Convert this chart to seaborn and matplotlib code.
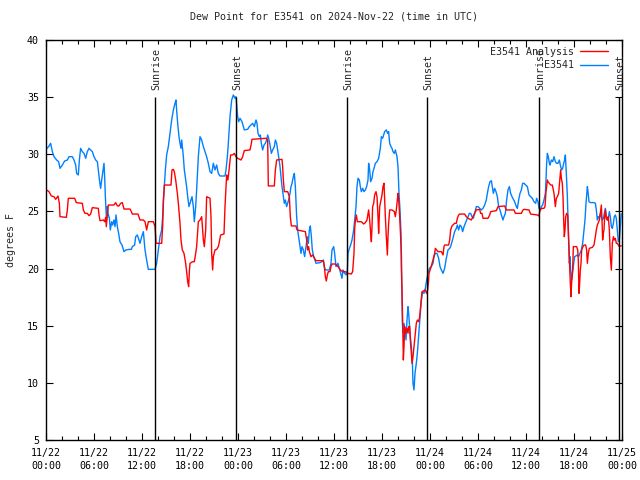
import matplotlib
matplotlib.use("Agg")
import matplotlib.pyplot as plt
from matplotlib.ticker import MultipleLocator, FixedLocator
import seaborn as sns
import pandas as pd

# ---- data (hours since 2024-11-22 00:00 UTC, dew point in F) ----
obs_points = [  # E3541 (blue)
    (0.08,30.5),(0.33,30.67),(0.58,30.96),(0.79,30.23),(1.0,29.79),(1.33,29.5),(1.58,29.35),(1.75,28.77),
    (2.04,29.06),(2.33,29.41),(2.67,29.5),(2.875,29.79),(3.29,29.79),(3.5,29.5),(3.71,29.06),(3.83,28.33),
    (4.04,28.19),(4.17,29.5),(4.33,30.52),(4.54,30.23),(4.75,30.08),(4.96,29.65),(5.17,30.23),(5.375,30.52),
    (5.58,30.38),(5.79,30.23),(6.0,29.79),(6.21,29.5),(6.42,29.35),(6.54,28.62),(6.71,27.6),(6.83,27.02),
    (6.96,27.75),(7.08,28.33),(7.25,29.21),(7.33,28.04),(7.42,26.29),(7.54,24.54),(7.67,25.42),(7.75,24.83),
    (7.92,24.4),(8.04,23.38),(8.21,24.1),(8.33,23.81),(8.5,24.25),(8.625,23.67),(8.75,24.69),(8.92,23.67),
    (9.08,23.08),(9.25,22.35),(9.5,22.06),(9.75,21.48),(9.96,21.62),(10.375,21.68),(10.67,21.68),(10.79,21.92),
    (11.08,22.06),(11.21,22.79),(11.42,22.94),(11.625,22.5),
    (11.75,22.21),(11.96,22.79),(12.17,23.23),(12.375,21.63),(12.58,20.75),(12.79,19.93),(13.625,19.93),
    (13.83,20.46),(14.04,21.63),(14.25,22.79),(14.46,23.38),(14.58,24.54),(14.67,26.0),(14.79,27.17),
    (14.92,28.63),(15.08,29.94),(15.29,30.67),(15.5,31.83),(15.71,33.0),(15.92,33.87),(16.125,34.46),
    (16.25,34.75),(16.33,33.87),(16.46,32.71),(16.625,31.54),(16.75,30.96),(16.875,30.52),(16.96,31.25),
    (17.08,30.38),(17.17,29.79),(17.29,28.63),(17.46,27.75),(17.58,27.17),(17.71,26.29),(17.875,25.42),
    (18.0,25.71),(18.125,26.0),(18.25,26.29),(18.42,25.42),(18.54,24.1),(18.71,25.42),(18.83,26.87),
    (19.04,29.79),(19.25,31.54),(19.46,31.25),(19.67,30.67),(19.875,30.23),(20.08,29.79),(20.29,29.21),
    (20.5,28.48),(20.71,28.33),(20.92,29.21),(21.125,28.63),(21.33,29.06),(21.54,28.33),(21.75,28.1),
    (22.375,28.1),(22.5,28.63),(22.67,29.79),(22.79,30.96),(23.0,33.29),(23.21,34.75),(23.42,35.19),
    (23.625,34.9),(23.75,35.04),
    (23.96,33.29),(24.08,32.85),(24.25,33.15),(24.5,32.85),(24.67,32.42),(24.79,32.13),(25.21,32.19),
    (25.42,32.42),(25.625,32.56),(25.83,32.71),(26.04,32.42),(26.25,33.0),(26.375,32.71),(26.5,31.83),
    (26.67,31.54),(26.79,31.69),(26.92,30.96),(27.08,30.38),(27.25,30.81),(27.42,30.96),(27.58,31.25),
    (27.71,31.69),(27.83,31.4),(28.0,30.81),(28.17,30.08),(28.33,30.38),(28.54,30.67),(28.67,31.25),
    (28.83,30.96),(28.96,30.38),(29.08,29.79),(29.25,28.92),(29.375,28.04),(29.5,27.17),(29.67,26.29),
    (29.79,25.71),(29.92,26.0),(30.08,25.42),(30.21,25.71),(30.33,26.0),(30.5,26.58),(30.625,27.17),
    (30.75,27.46),(30.92,28.04),(31.04,28.33),(31.17,27.17),(31.33,24.54),(31.46,23.38),(31.58,22.79),
    (31.75,21.92),(31.875,21.33),(32.0,21.92),(32.17,21.63),(32.33,21.04),(32.5,21.92),(32.67,22.79),
    (32.79,22.21),(32.92,23.38),(33.04,23.73),(33.17,22.79),(33.29,21.63),(33.42,21.19),(33.54,20.9),
    (33.75,20.46),(34.25,20.52),(34.5,20.6),(34.67,20.75),(34.79,20.17),(34.92,19.88),(35.42,19.88),
    (35.625,20.46),
    (35.75,21.63),(35.96,21.92),(36.08,21.33),(36.25,20.17),(36.5,20.46),(36.67,20.02),(36.83,19.58),
    (37.0,19.15),(37.125,19.88),(37.33,19.58),(37.54,19.44),(37.67,19.88),(37.75,21.33),(37.92,21.77),
    (38.08,22.06),(38.25,22.5),(38.46,23.38),(38.58,24.25),(38.75,25.42),(38.875,27.17),(39.0,27.9),
    (39.17,27.75),(39.29,27.17),(39.42,26.73),(39.58,27.02),(39.75,26.73),(39.92,26.88),(40.08,27.17),
    (40.25,27.75),(40.33,29.21),(40.46,28.63),(40.58,27.6),(40.75,27.9),(40.875,28.48),(41.0,28.77),
    (41.17,29.21),(41.375,29.35),(41.58,29.65),(41.79,30.52),(41.92,31.54),(42.08,31.4),(42.21,31.69),
    (42.33,31.98),(42.54,32.13),(42.71,31.83),(42.83,31.98),(42.96,30.96),(43.125,30.67),(43.25,30.52),
    (43.375,30.23),(43.54,30.08),(43.67,30.38),(43.875,29.79),(44.0,28.92),(44.125,26.58),(44.25,25.13),
    (44.375,23.08),(44.42,19.88),(44.5,17.83),(44.54,15.36),(44.625,14.34),(44.75,15.21),(44.875,14.63),
    (45.0,13.75),(45.125,15.5),(45.25,16.67),(45.33,16.09),(45.42,15.21),(45.54,14.04),(45.67,13.17),
    (45.79,12.0),(45.875,9.96),(46.0,9.38),(46.125,10.84),(46.29,11.71),(46.42,12.59),(46.54,13.75),
    (46.67,14.92),(46.79,16.09),(46.92,17.25),(47.08,17.98),(47.25,17.83),(47.42,18.27),(47.58,19.0),
    (47.75,19.58),(47.92,20.02),
    (48.17,20.17),(48.375,20.46),(48.5,21.04),(48.67,21.33),(48.875,21.33),(49.08,20.9),(49.25,20.17),
    (49.42,19.88),(49.625,19.58),(49.83,20.02),(50.04,20.9),(50.25,21.63),(50.46,21.77),(50.58,21.92),
    (50.75,22.35),(50.92,22.79),(51.08,23.23),(51.29,23.52),(51.42,23.81),(51.58,23.38),(51.75,23.81),
    (51.92,23.67),(52.08,23.23),(52.25,23.67),(52.42,23.96),(52.58,24.25),(52.75,24.54),(52.92,24.83),
    (53.08,24.83),(53.25,24.54),(53.42,24.4),(53.58,24.83),(53.79,25.42),(54.0,25.42),(54.21,25.27),
    (54.42,25.13),(54.625,25.27),(54.83,25.56),(55.04,26.0),(55.17,26.58),(55.33,27.17),(55.5,27.6),
    (55.67,27.69),(55.79,27.17),(55.92,26.58),(56.08,27.02),(56.25,26.73),(56.42,26.29),(56.58,25.42),
    (56.75,25.13),(56.92,24.69),(57.125,24.25),(57.25,24.54),(57.42,24.83),(57.58,26.0),(57.75,26.88),
    (57.92,27.17),(58.08,26.58),(58.25,26.29),(58.58,25.85),(58.79,25.42),(58.92,25.27),(59.08,26.0),
    (59.25,26.58),(59.42,26.88),(59.58,27.46),
    (59.75,27.46),(59.96,27.31),(60.17,27.17),(60.375,26.44),(60.58,26.29),(60.79,26.15),(61.0,25.85),
    (61.21,25.71),(61.33,26.15),(61.5,25.85),(61.625,25.27),(61.75,25.13),(61.92,25.42),(62.08,25.56),
    (62.25,26.0),(62.42,26.58),(62.5,27.75),(62.58,29.21),(62.67,30.08),(62.79,29.79),(62.92,29.21),
    (63.0,29.06),(63.17,29.5),(63.33,29.35),(63.5,29.79),(63.67,29.35),(63.83,29.21),(64.0,29.21),
    (64.17,29.5),(64.33,28.92),(64.46,28.63),(64.58,28.77),(64.71,29.21),(64.83,29.5),(64.92,29.94),
    (65.0,28.92),(65.08,27.75),(65.17,26.29),(65.25,24.54),(65.33,22.5),(65.42,20.46),(65.5,21.04),
    (65.58,19.87),(65.71,19.0),(65.83,19.73),(65.96,20.46),(66.08,21.04),(66.42,21.19),(66.58,21.04),
    (66.75,21.33),(66.92,21.63),(67.08,22.21),(67.25,23.38),(67.375,24.25),(67.5,25.71),(67.67,27.17),
    (67.75,26.73),(67.875,25.85),(68.08,25.77),(68.5,25.77),(68.67,25.71),(68.79,25.13),(68.92,24.25),
    (69.04,24.54),(69.17,24.4),(69.29,24.83),(69.42,24.54),(69.54,24.25),(69.67,24.4),(69.79,24.83),
    (69.92,25.27),(70.04,24.54),(70.17,24.25),(70.29,24.4),(70.42,24.98),(70.54,24.54),(70.67,23.67),
    (70.79,23.52),(70.92,23.96),(71.04,24.54),(71.17,24.69),(71.29,24.4),(71.42,23.38),(71.54,22.35),
    (71.67,22.5),(71.9,24.8),
]

analysis_points = [  # E3541 Analysis (red)
    (0.08,26.875),(0.375,26.73),(0.67,26.35),(1.0,26.29),(1.21,26.06),(1.5,26.35),(1.67,25.71),(1.75,24.54),
    (2.54,24.48),(2.67,25.13),(2.79,26.15),(3.58,26.15),(3.79,25.77),(4.54,25.71),(4.67,25.13),(4.875,24.83),
    (5.17,24.83),(5.375,24.63),(5.58,24.77),(5.79,25.33),(6.54,25.27),(6.625,24.69),(6.75,24.19),(7.17,24.25),
    (7.33,24.1),(7.46,24.48),(7.54,23.67),(7.67,24.69),(7.79,25.56),(8.5,25.56),(8.71,25.77),(8.92,25.48),
    (9.125,25.48),(9.33,25.71),(9.54,25.77),(9.75,25.21),(10.5,25.21),(10.67,24.98),(10.79,24.77),(11.5,24.77),
    (11.75,24.25),(12.17,24.25),(12.375,24.1),(12.58,23.38),(12.79,24.1),(13.42,24.1),(13.625,23.67),
    (13.71,22.79),(13.75,22.21),(14.46,22.21),(14.58,23.67),(14.67,25.71),(14.79,27.31),(15.625,27.31),
    (15.75,28.63),(15.92,28.68),(16.04,28.48),(16.21,27.75),(16.42,26.58),(16.58,25.42),(16.75,23.96),
    (16.875,22.5),(17.04,21.63),(17.25,21.33),(17.46,20.46),(17.58,19.73),(17.71,18.85),(17.83,18.42),
    (17.92,19.73),(18.0,20.46),(18.33,20.6),(18.54,20.6),(18.71,21.33),(18.83,21.92),(19.04,24.1),
    (19.25,24.25),(19.46,24.54),(19.58,23.38),(19.67,22.5),(19.79,21.92),(19.96,23.38),(20.08,26.29),
    (20.5,26.15),(20.625,24.54),(20.71,21.33),(20.83,19.88),(20.92,21.04),(21.125,21.63),(21.33,21.68),
    (21.54,21.92),(21.67,22.35),(21.83,22.94),(22.25,23.03),(22.375,25.42),(22.58,28.19),(22.71,27.75),
    (22.79,28.04),(22.92,28.92),(23.08,29.94),(23.33,29.94),(23.54,30.08),
    (23.75,29.79),(23.96,29.65),(24.375,29.5),(24.58,29.79),(24.79,30.32),(25.5,30.38),(25.67,30.96),
    (25.75,31.31),(27.5,31.4),(27.71,31.25),(27.75,28.92),(27.79,27.23),(28.54,27.23),(28.67,28.63),
    (28.83,29.5),(29.5,29.56),(29.58,28.92),(29.67,27.75),(29.79,26.73),(30.21,26.73),(30.42,26.29),
    (30.54,24.54),(30.67,23.73),(31.25,23.73),(31.375,23.38),(32.42,23.23),(32.58,22.5),(32.71,21.63),
    (32.83,21.92),(32.92,21.48),(33.125,21.04),(33.33,21.19),(33.58,20.9),(33.75,20.69),(34.67,20.69),
    (34.79,20.17),(34.92,19.29),(35.04,18.91),(35.17,19.44),(35.29,19.73),(35.5,19.73),(35.625,20.17),
    (35.75,20.4),(36.17,20.4),(36.5,20.17),(36.79,19.88),(37.08,19.73),(37.42,19.73),(37.67,19.58),
    (38.17,19.53),(38.33,19.73),(38.5,21.33),(38.58,23.38),(38.67,24.25),(38.79,24.69),(38.92,24.1),
    (39.42,24.1),(39.71,23.9),(39.92,24.02),(40.125,24.25),(40.33,25.13),(40.46,24.25),(40.58,23.08),
    (40.67,22.35),(40.75,23.67),(40.83,25.42),(40.96,25.71),(41.08,26.44),(41.25,26.73),(41.375,26.29),
    (41.5,24.54),(41.58,23.08),(41.71,25.42),(41.83,25.86),(42.0,26.44),(42.125,27.17),(42.25,27.46),
    (42.33,26.0),(42.42,24.54),(42.54,22.79),(42.67,21.19),(42.75,22.79),(42.83,23.96),(42.96,25.13),
    (43.25,25.13),(43.54,24.98),(43.67,24.54),(43.79,25.13),(43.92,26.0),(44.0,26.58),(44.08,26.0),
    (44.17,25.13),(44.29,23.38),(44.375,21.92),(44.42,21.33),(44.5,17.83),(44.58,15.5),(44.67,12.0),
    (44.75,13.17),(44.83,14.92),(44.92,14.34),(45.125,14.77),(45.25,14.34),(45.33,14.92),(45.46,14.92),
    (45.54,13.75),(45.67,12.59),(45.75,11.71),(45.875,12.29),(46.0,13.17),(46.17,14.34),(46.29,15.21),
    (46.42,15.5),(46.58,15.36),(46.71,15.79),(46.83,16.67),(47.0,17.98),(47.42,18.13),(47.58,17.83),
    (47.71,18.13),(47.83,19.0),
    (47.875,19.58),(48.08,20.02),(48.375,20.75),(48.58,21.33),(48.67,21.77),(49.0,21.48),(49.42,21.48),
    (49.625,21.19),(49.75,21.92),(49.83,22.06),(50.33,22.06),(50.46,22.5),(50.58,23.38),(50.75,23.73),
    (51.08,23.96),(51.29,23.96),(51.42,24.4),(51.58,24.69),(51.71,24.77),(52.33,24.77),(52.54,24.54),
    (52.75,24.4),(53.17,24.25),(53.375,24.54),(53.58,24.83),(53.79,25.13),(54.21,25.18),(54.33,24.83),
    (54.5,24.83),(54.625,24.4),(55.25,24.4),(55.46,24.69),(55.58,24.98),(56.29,25.07),(56.5,25.42),
    (57.33,25.48),(57.54,25.13),(58.5,25.13),(58.67,24.83),(59.42,24.83),(59.625,25.13),
    (59.75,25.18),(60.375,25.13),(60.58,24.77),(61.42,24.69),(61.625,24.6),(61.71,24.98),(61.92,25.27),
    (62.25,25.27),(62.375,25.42),(62.5,26.73),(62.58,27.17),(62.67,27.75),(62.75,27.6),(63.08,27.31),
    (63.29,27.31),(63.42,26.88),(63.5,26.58),(63.58,26.0),(63.67,25.42),(63.79,26.15),(63.92,26.29),
    (64.08,26.58),(64.17,27.31),(64.25,28.04),(64.33,28.63),(64.42,27.9),(64.54,27.46),(64.625,26.29),
    (64.71,24.25),(64.79,22.79),(64.875,23.38),(64.96,24.54),(65.08,24.83),(65.21,24.69),(65.33,22.5),
    (65.46,20.17),(65.54,18.71),(65.625,17.54),(65.71,18.85),(65.83,19.88),(65.92,21.92),(66.33,21.92),
    (66.46,21.63),(66.54,20.75),(66.625,17.83),(66.71,18.71),(66.79,19.88),(66.875,20.46),(66.96,21.63),
    (67.08,21.86),(67.25,22.06),(67.46,22.06),(67.58,21.63),(67.67,20.46),(67.79,21.33),(67.92,21.77),
    (68.29,21.86),(68.5,22.06),(68.67,22.79),(68.79,23.38),(68.92,23.81),(69.04,24.02),(69.17,24.25),
    (69.29,24.83),(69.42,25.56),(69.5,24.25),(69.58,22.5),(69.67,23.08),(69.75,23.38),(69.83,24.54),
    (69.92,25.13),(70.04,24.4),(70.17,24.25),(70.29,24.54),(70.42,23.38),(70.54,21.04),(70.67,19.87),
    (70.79,22.21),(70.92,22.79),(71.04,22.5),(71.17,22.65),(71.29,22.21),(71.42,22.21),(71.54,22.06),
    (71.67,21.92),(71.9,22.0),
]

sunrise_hours = [13.66, 37.66, 61.66]
sunset_hours = [23.77, 47.68, 71.68]

x_tick_hours = [0, 6, 12, 18, 24, 30, 36, 42, 48, 54, 60, 66, 72]
x_tick_labels = ["11/22\n00:00", "11/22\n06:00", "11/22\n12:00", "11/22\n18:00",
                 "11/23\n00:00", "11/23\n06:00", "11/23\n12:00", "11/23\n18:00",
                 "11/24\n00:00", "11/24\n06:00", "11/24\n12:00", "11/24\n18:00",
                 "11/25\n00:00"]
y_ticks = [5, 10, 15, 20, 25, 30, 35, 40]

title = "Dew Point for E3541 on 2024-Nov-22 (time in UTC)"

# ---- plotting ----
sns.set_style("ticks")
plt.rcParams["font.family"] = ["DejaVu Sans Mono"]
plt.rcParams["font.size"] = 7.2

obs_df = pd.DataFrame(obs_points, columns=["hour", "dewpoint"])
ana_df = pd.DataFrame(analysis_points, columns=["hour", "dewpoint"])

fig = plt.figure(figsize=(6.4, 4.8), dpi=100)
ax = fig.add_axes([46/640, 40/480, 576/640, 400/480])

sns.lineplot(data=obs_df, x="hour", y="dewpoint", ax=ax, color="#0080ff",
             linewidth=1.0, label="E3541", estimator=None, sort=False)
sns.lineplot(data=ana_df, x="hour", y="dewpoint", ax=ax, color="#ff0000",
             linewidth=1.0, label="E3541 Analysis", estimator=None, sort=False)

for h in sunrise_hours:
    ax.vlines(h, 5, 35, color="black", linewidth=1.0)
    ax.text(h + 0.15, 35.6, "Sunrise", rotation=90, ha="center", va="bottom", fontsize=7.2)
for h in sunset_hours:
    ax.vlines(h, 5, 35, color="black", linewidth=1.0)
    ax.text(h + 0.15, 35.6, "Sunset", rotation=90, ha="center", va="bottom", fontsize=7.2)

ax.set_xlim(0, 72)
ax.set_ylim(5, 40)
ax.xaxis.set_major_locator(FixedLocator(x_tick_hours))
ax.set_xticklabels(x_tick_labels, linespacing=1.35)
ax.xaxis.set_minor_locator(MultipleLocator(2))
ax.set_yticks(y_ticks)
ax.set_yticklabels([str(v) for v in y_ticks])

ax.tick_params(which="both", direction="in", top=True, right=True, colors="black", width=0.8)
ax.tick_params(which="major", length=5, labelsize=7.2)
ax.tick_params(axis="x", which="major", pad=6)
ax.tick_params(axis="y", which="major", pad=5)
ax.tick_params(which="minor", length=3)

for s in ax.spines.values():
    s.set_visible(True)
    s.set_color("black")
    s.set_linewidth(1.0)

ax.set_xlabel("")
ax.set_ylabel("degrees F", fontsize=7.2, labelpad=8)
ax.set_title(title, fontsize=7.2, pad=15)

handles, labels = ax.get_legend_handles_labels()
order = [labels.index("E3541 Analysis"), labels.index("E3541")]
ax.legend([handles[i] for i in order], [labels[i] for i in order],
          loc="upper right", bbox_to_anchor=(1 - 7/576, 1.0), frameon=False, markerfirst=False,
          handlelength=2.8, handletextpad=0.6, borderaxespad=0.3,
          labelspacing=0.35, fontsize=7.2)

fig.savefig("out.png", dpi=100)
